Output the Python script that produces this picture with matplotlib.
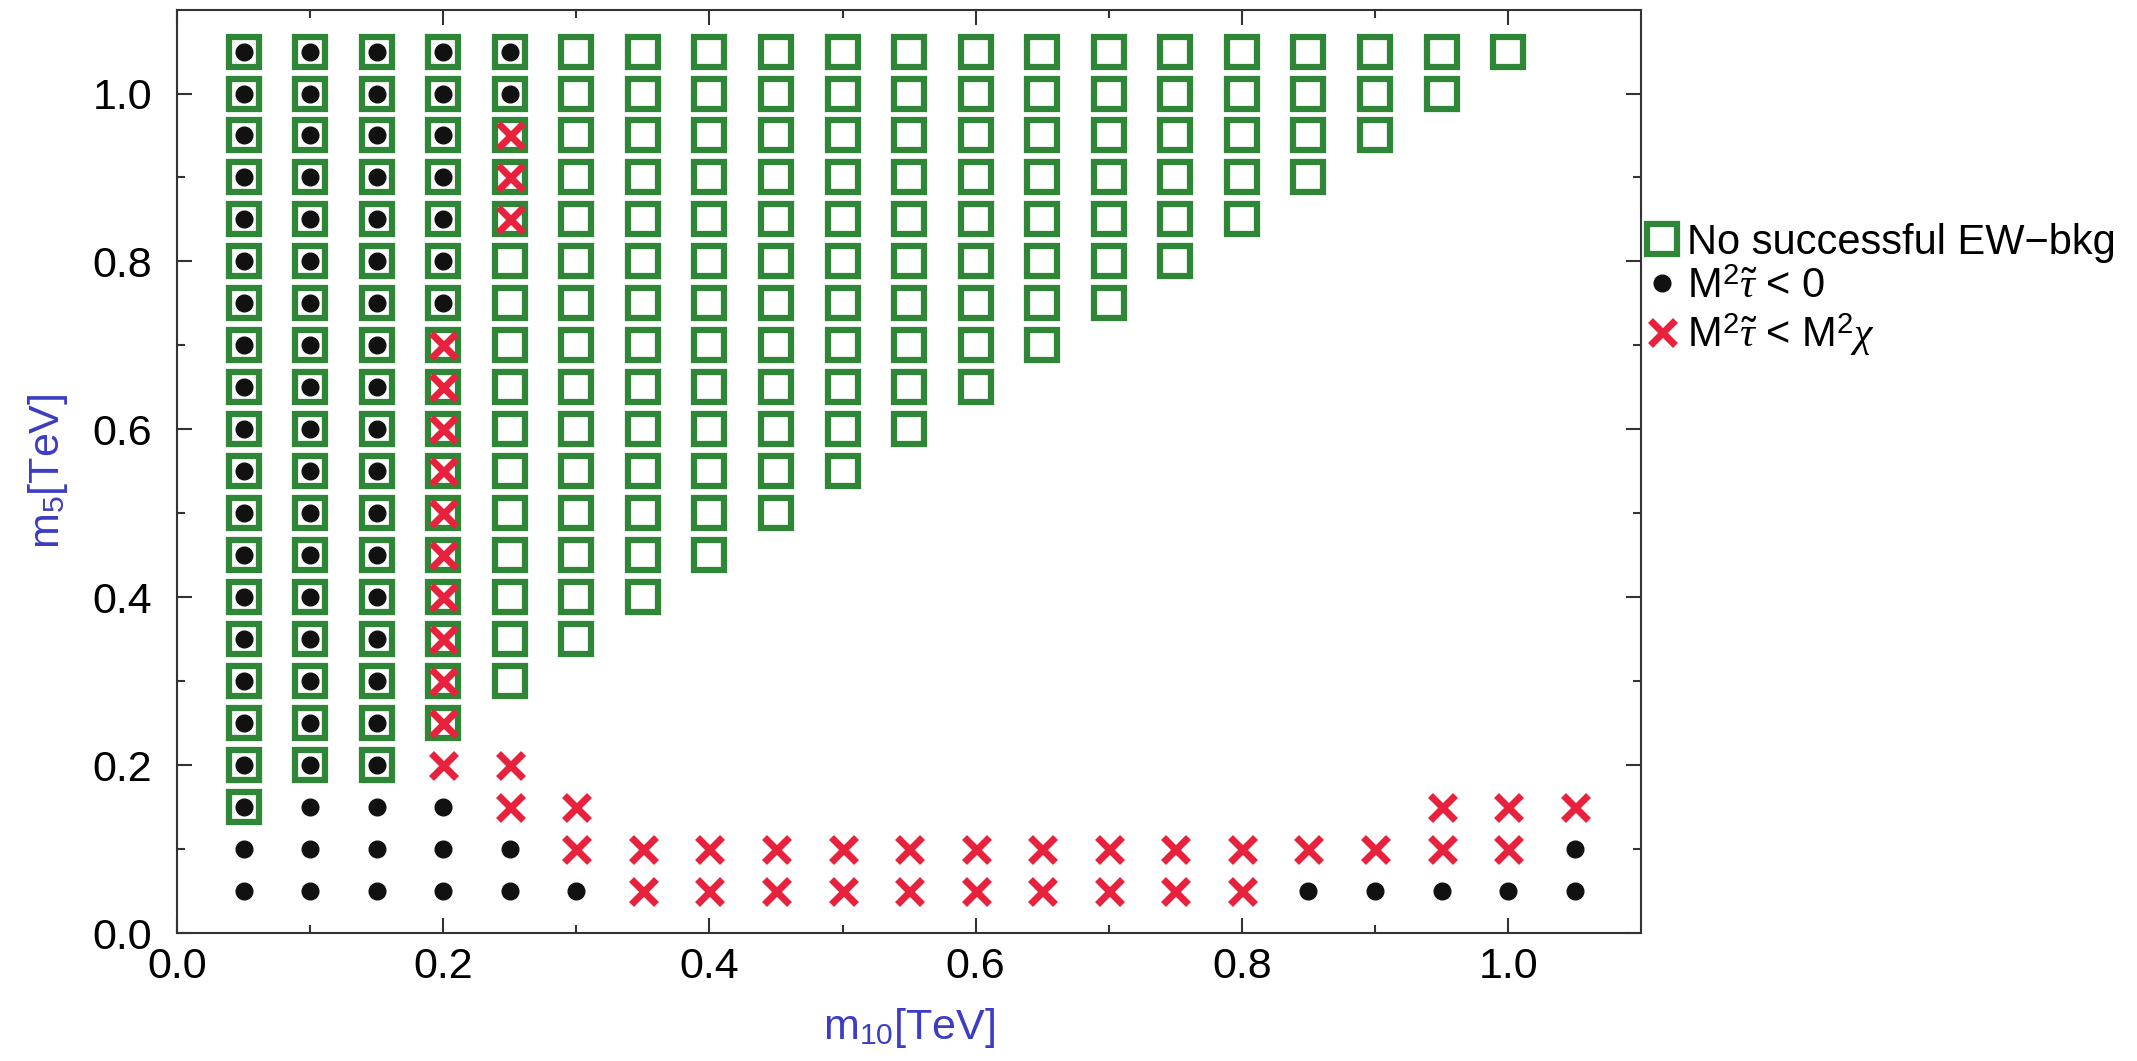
import numpy as np
import matplotlib
matplotlib.use("Agg")
import matplotlib.pyplot as plt
from matplotlib.lines import Line2D

plt.rcParams['font.family'] = ['Liberation Sans', 'DejaVu Sans']
plt.rcParams['mathtext.fontset'] = 'custom'
plt.rcParams['mathtext.rm'] = 'Liberation Sans'
plt.rcParams['mathtext.it'] = 'Liberation Serif:italic'

# grid step of the scan in TeV
step = 0.05

# runs of points: (column index, first row index, last row index), value = index*step
square_runs = [(1, 3, 21), (2, 4, 21), (3, 4, 21), (4, 5, 21), (5, 6, 21), (6, 7, 21),
               (7, 8, 21), (8, 9, 21), (9, 10, 21), (10, 11, 21), (11, 12, 21),
               (12, 13, 21), (13, 14, 21), (14, 15, 21), (15, 16, 21), (16, 17, 21),
               (17, 18, 21), (18, 19, 21), (19, 20, 21), (20, 21, 21)]
dot_runs = [(1, 1, 21), (2, 1, 21), (3, 1, 21), (4, 1, 3), (4, 15, 21),
            (5, 1, 2), (5, 20, 21), (6, 1, 1), (17, 1, 1), (18, 1, 1),
            (19, 1, 1), (20, 1, 1), (21, 1, 2)]
cross_runs = [(4, 4, 14), (5, 3, 4), (5, 17, 19), (6, 2, 3),
              (7, 1, 2), (8, 1, 2), (9, 1, 2), (10, 1, 2), (11, 1, 2), (12, 1, 2),
              (13, 1, 2), (14, 1, 2), (15, 1, 2), (16, 1, 2),
              (17, 2, 2), (18, 2, 2), (19, 2, 3), (20, 2, 3), (21, 3, 3)]

legend_labels = ['No successful EW\u2212bkg',
                 r'M$^2$$\tilde{\tau}$ < 0',
                 r'M$^2$$\tilde{\tau}$ < M$^2$$\chi$']


def expand(runs):
    xs, ys = [], []
    for col, lo, hi in runs:
        for row in range(lo, hi + 1):
            xs.append(col * step)
            ys.append(row * step)
    return np.array(xs), np.array(ys)


green = '#2f8636'
red = '#e8213c'
blue = '#3c3cc4'

sq_style = dict(ls='none', marker='s', ms=21, mfc='none', mec=green, mew=4.5)
dot_style = dict(ls='none', marker='o', ms=12, color='#111111')
x_style = dict(ls='none', marker='x', ms=18, mec=red, mew=5)

fig = plt.figure(figsize=(21.37, 10.61), dpi=100)
ax = fig.add_axes([0.0828, 0.1206, 0.6852, 0.8704])

sx, sy = expand(square_runs)
dx, dy = expand(dot_runs)
cx, cy = expand(cross_runs)

ax.plot(sx, sy, **sq_style)
ax.plot(dx, dy, **dot_style)
ax.plot(cx, cy, **x_style)

ax.set_xlim(0, 1.1)
ax.set_ylim(0, 1.1)
ax.set_xticks(np.arange(0, 1.01, 0.2))
ax.set_yticks(np.arange(0, 1.01, 0.2))
ax.set_xticks(np.arange(0, 1.1, 0.1), minor=True)
ax.set_yticks(np.arange(0, 1.1, 0.1), minor=True)
ax.tick_params(which='both', direction='in', top=True, right=True, width=1.5,
               color='#333333')
ax.tick_params(which='major', length=11, labelsize=31)
ax.tick_params(axis='y', which='major', pad=18)
ax.tick_params(axis='x', which='major', pad=10)
ax.tick_params(which='minor', length=6)
for s in ax.spines.values():
    s.set_linewidth(1.5)
    s.set_color('#333333')

ax.set_xlabel(r'm$_{10}$[TeV]', color=blue, fontsize=31, labelpad=14)
ax.set_ylabel(r'm$_5$[TeV]', color=blue, fontsize=31, labelpad=16)

handles = [Line2D([], [], **sq_style), Line2D([], [], **dot_style),
           Line2D([], [], **x_style)]
fig.legend(handles, legend_labels, loc='upper left', bbox_to_anchor=(0.771, 0.79),
           frameon=False, fontsize=30, handlelength=0.7, handletextpad=0.25,
           labelspacing=0.1, borderpad=0, borderaxespad=0)

fig.savefig('out.png', dpi=100)
